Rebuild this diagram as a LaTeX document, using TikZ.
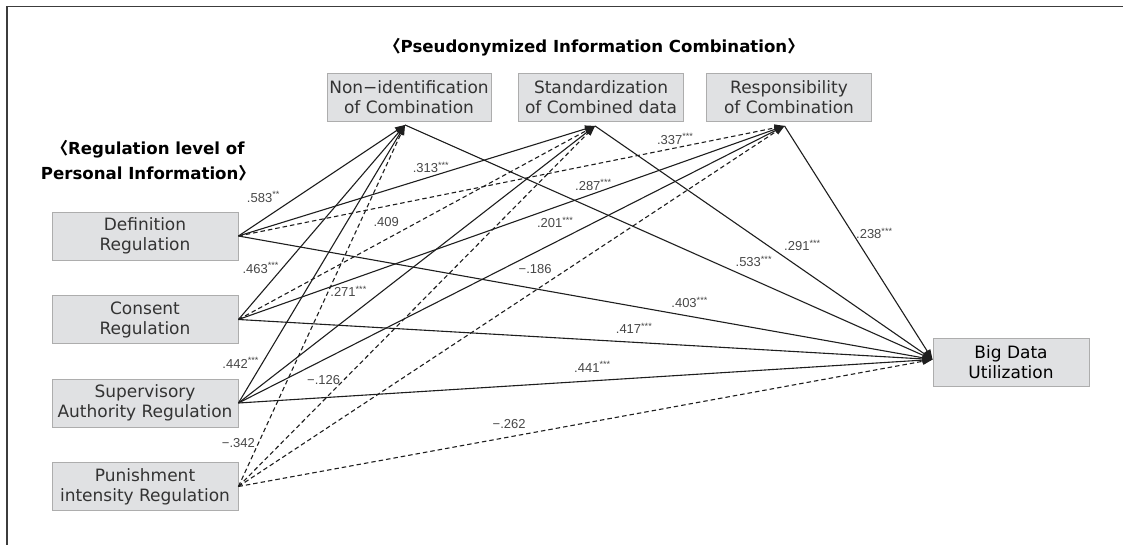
\documentclass[tikz,border=0pt]{standalone}
\usepackage{fontspec}
\setmainfont{DejaVu Sans}
\newfontfamily\coeffont{Liberation Sans}
\newfontfamily\cjkfont{Noto Sans CJK KR}
\usetikzlibrary{positioning}
\usetikzlibrary{arrows.meta}

\definecolor{boxfill}{HTML}{E0E1E3}
\definecolor{boxline}{HTML}{ADADAD}
\definecolor{inktext}{HTML}{333333}
\definecolor{coeftext}{HTML}{474747}
\definecolor{linecol}{HTML}{1E1E1E}
\definecolor{framecol}{HTML}{3C3C3C}

\tikzset{
  varbox/.style={draw=boxline, line width=0.9pt, fill=boxfill, text=inktext, align=center,
    inner sep=0pt, minimum height=48pt, font=\fontsize{17}{20}\selectfont},
  grouptitle/.style={align=center, text=black, inner sep=0pt, font=\fontsize{16.6}{25}\selectfont\bfseries},
  pathline/.style={->, draw=linecol, line width=1.1pt},
  dashline/.style={pathline, dash pattern=on 4.5pt off 3pt},
  coef/.style={text=coeftext, inner sep=3pt, font=\coeffont\fontsize{13}{14}\selectfont},
}

\begin{document}
\begin{tikzpicture}[x=1pt, y=-1pt, >={Triangle[length=10pt,width=7pt]}, node distance=83.5pt]
		\useasboundingbox (0,0) rectangle (1123,545);
		\draw[framecol, line width=1.3pt] (7,545) -- (7,6.5) -- (1123,6.5);
		% group titles
		\node (combtitle) [grouptitle] at (594,47) {{\cjkfont 〈}Pseudonymized Information Combination{\cjkfont 〉}};
		\node (regtitle) [grouptitle] at (148,160.5) {{\cjkfont 〈}Regulation level of\\Personal Information{\cjkfont 〉}};
		% regulation level
		\node (def) [varbox, minimum width=186pt] at (145,236) {Definition\\Regulation};
		\node (con) [varbox, minimum width=186pt, below of = def] {Consent\\Regulation};
		\node (sup) [varbox, minimum width=186pt, below of = con] {Supervisory\\Authority Regulation};
		\node (pun) [varbox, minimum width=186pt, below of = sup] {Punishment\\intensity Regulation};
		% pseudonymized combination
		\node (nid) [varbox, minimum width=164pt] at (409,97.5) {Non−identification\\of Combination};
		\node (std) [varbox, minimum width=165pt, node distance=192pt, right of = nid] {Standardization\\of Combined data};
		\node (resp) [varbox, minimum width=165pt, node distance=192pt, right of = std, xshift=-4pt] {Responsibility\\of Combination};
		\node (bd) [varbox, minimum width=156pt, text=black] at (1011,362.5) {Big Data\\Utilization};
		\coordinate (nid-in) at ([xshift=-4pt,yshift=-3pt]nid.south);
		\coordinate (std-in) at ([xshift=-6pt,yshift=-4pt]std.south);
		\coordinate (resp-in) at ([xshift=-4.5pt,yshift=-4pt]resp.south);
		\coordinate (bd-in) at ([yshift=3pt]bd.west);
		% definition
		\draw[pathline] (def.east) -- node[coef, pos=.27, anchor=south east] {.583\textsuperscript{**}} (nid-in);
		\draw[pathline] (def.east) -- node[coef, pos=.54, anchor=south] {.313\textsuperscript{***}} (std-in);
		\draw[dashline] (def.east) -- node[coef, pos=.80, anchor=south] {.337\textsuperscript{***}} (resp-in);
		\draw[pathline] (def.east) -- node[coef, pos=.65, anchor=south, yshift=5pt] {.403\textsuperscript{***}} (bd-in);
		% consent
		\draw[pathline] (con.east) -- node[coef, pos=.265, anchor=east] {.463\textsuperscript{***}} (nid-in);
		\draw[dashline] (con.east) -- node[coef, pos=.46, anchor=south east] {.409} (std-in);
		\draw[pathline] (con.east) -- node[coef, pos=.65, anchor=south] {.287\textsuperscript{***}} (resp-in);
		\draw[pathline] (con.east) -- node[coef, pos=.57, anchor=south, yshift=5pt] {.417\textsuperscript{***}} (bd-in);
		% supervisory authority
		\draw[pathline] (sup.east) -- node[coef, pos=.144, anchor=east] {.442\textsuperscript{***}} (nid-in);
		\draw[pathline] (sup.east) -- node[coef, pos=.37, anchor=south east] {.271\textsuperscript{***}} (std-in);
		\draw[pathline] (sup.east) -- node[coef, pos=.62, anchor=south east] {.201\textsuperscript{***}} (resp-in);
		\draw[pathline] (sup.east) -- node[coef, pos=.51, anchor=south, yshift=5pt] {.441\textsuperscript{***}} (bd-in);
		% punishment intensity
		\draw[dashline] (pun.east) -- node[coef, pos=.12, anchor=east] {−.342} (nid-in);
		\draw[dashline] (pun.east) -- node[coef, pos=.295, anchor=east] {−.126} (std-in);
		\draw[dashline] (pun.east) -- node[coef, pos=.58, anchor=south east] {−.186} (resp-in);
		\draw[dashline] (pun.east) -- node[coef, pos=.39, anchor=south, yshift=5pt] {−.262} (bd-in);
		% combination -> big data
		\draw[pathline] (nid-in) -- node[coef, pos=.62, anchor=south west] {.533\textsuperscript{***}} (bd-in);
		\draw[pathline] (std-in) -- node[coef, pos=.55, anchor=south west] {.291\textsuperscript{***}} (bd-in);
		\draw[pathline] (resp-in) -- node[coef, pos=.46, anchor=west] {.238\textsuperscript{***}} (bd-in);
\end{tikzpicture}
\end{document}
